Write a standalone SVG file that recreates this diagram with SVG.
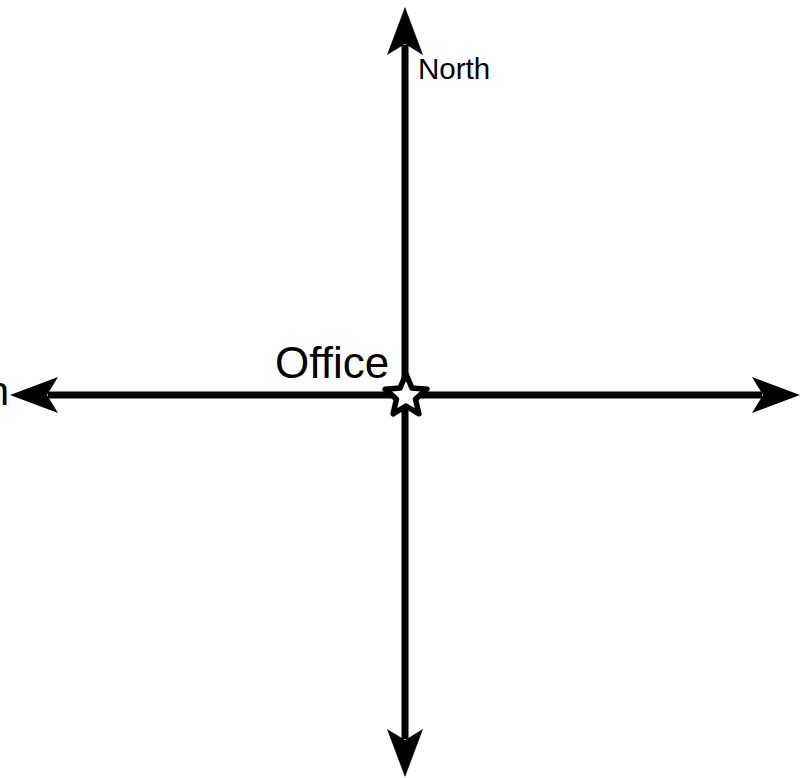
<svg xmlns="http://www.w3.org/2000/svg" width="812" height="778" viewBox="0 0 812 778">
<style>
.axis{stroke:#000;stroke-width:7;fill:none}
.lbl{font-family:"Liberation Sans",Arial,sans-serif;fill:#000}
</style>
<defs>
<marker id="ah" markerUnits="userSpaceOnUse" markerWidth="54" markerHeight="40" viewBox="-50 -20 54 40" refX="-38" refY="0" orient="auto">
<path d="M0,0 L-48,-18 L-37,0 L-48,18 Z" fill="#000"/>
</marker>
</defs>
<rect width="812" height="778" fill="#fff"/>
<g id="connectors">
<line class="axis" x1="405" y1="396" x2="405" y2="45" marker-end="url(#ah)"/>
<line class="axis" x1="405" y1="396" x2="405" y2="739" marker-end="url(#ah)"/>
<line class="axis" x1="405" y1="395" x2="762" y2="395" marker-end="url(#ah)"/>
<line class="axis" x1="405" y1="395" x2="48" y2="395" marker-end="url(#ah)"/>
</g>
<g id="north"><text class="lbl" x="418" y="79" font-size="29.5">North</text></g>
<g id="west"><text class="lbl" x="9" y="405" font-size="40" text-anchor="end">n</text></g>
<g id="office">
<text class="lbl" x="275" y="378" font-size="44">Office</text>
<polygon points="406,374 411.9,387.9 426.9,389.2 415.5,399.1 418.9,413.8 406,406 393.1,413.8 396.5,399.1 385.1,389.2 400.1,387.9" fill="#fff" stroke="#000" stroke-width="5.5" stroke-linejoin="round"/>
</g>
</svg>
